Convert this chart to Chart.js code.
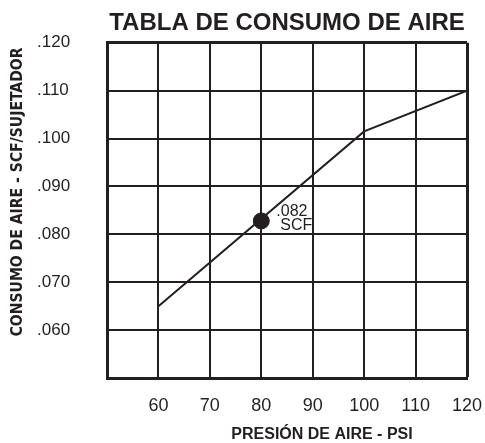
<!DOCTYPE html>
<html>
<head>
<meta charset="utf-8">
<script src="https://cdn.jsdelivr.net/npm/chart.js@4/dist/chart.umd.min.js"></script>
<style>
html,body{margin:0;padding:0;background:#fff;}
#wrap{width:485px;height:443px;position:relative;}
</style>
</head>
<body>
<div id="wrap"><canvas id="airChart"></canvas></div>
<script>
// data
const chartTitle = 'TABLA DE CONSUMO DE AIRE';
const xTitle = 'PRESIÓN DE AIRE - PSI';
const yTitle = 'CONSUMO DE AIRE - SCF/SUJETADOR';
const pressure = [60, 100, 120];
const consumption = [0.065, 0.1015, 0.110];
const markPressure = [80];
const markValue = [0.0828];
const markLines = ['.082', 'SCF'];
const xRange = [50, 120];
const yRange = [0.05, 0.12];

const ink = '#231f20';
const sans = '"Liberation Sans", Arial, Helvetica, sans-serif';
const narrow = '"Liberation Sans Narrow", "DejaVu Sans Condensed", sans-serif';

// note by the point + axis titles (placed like the original, off-centre)
const textPlugin = {
  id: 'extraText',
  afterDraw: function(chart){
    const c = chart.ctx, xs = chart.scales.x, ys = chart.scales.y;
    const px = xs.getPixelForValue(markPressure[0]);
    const py = ys.getPixelForValue(markValue[0]);
    c.save();
    c.fillStyle = ink;
    c.textBaseline = 'middle';
    c.textAlign = 'left';
    c.font = '16px ' + sans;
    c.fillText(markLines[0], px + 15, py - 9);
    c.fillText(markLines[1], px + 19, py + 5);
    c.textAlign = 'center';
    c.font = 'bold 16px ' + sans;
    c.fillText(xTitle, 322, 435);
    c.translate(18, 192);
    c.rotate(-Math.PI / 2);
    c.font = 'bold 16px ' + narrow;
    // squeeze to the length of the original lettering
    const w = c.measureText(yTitle).width;
    c.scale(289 / w, 1);
    c.fillText(yTitle, 0, 0);
    c.restore();
  }
};

new Chart('airChart', {
  type: 'scatter',
  data: {
    datasets: [{
      data: pressure.map(function(p, i){ return {x: p, y: consumption[i]}; }),
      showLine: true,
      borderColor: ink,
      borderWidth: 2,
      pointRadius: 0
    },
    {
      data: markPressure.map(function(p, i){ return {x: p, y: markValue[i]}; }),
      pointRadius: 8,
      backgroundColor: ink,
      borderColor: ink
    }]
  },
  options: {
    responsive: true,
    maintainAspectRatio: false,
    animation: false,
    events: [],
    layout: {padding: {left: 37, right: 18, top: 0, bottom: 0}},
    plugins: {
      legend: {display: false},
      tooltip: {enabled: false},
      title: {
        display: true,
        fullSize: false,
        text: chartTitle,
        align: 'center',
        color: ink,
        font: {family: sans, size: 24, weight: 'bold'},
        padding: {top: 9, bottom: 5}
      }
    },
    scales: {
      x: {
        type: 'linear',
        min: xRange[0],
        max: xRange[1],
        afterFit: function(s){ s.height = 65; },
        border: {color: ink, width: 3},
        grid: {
          color: ink,
          drawTicks: true,
          tickLength: 17,
          tickColor: 'rgba(0,0,0,0)',
          lineWidth: function(ctx){ return ctx.tick && ctx.tick.value === xRange[1] ? 3 : 2; }
        },
        ticks: {
          stepSize: 10,
          padding: 0,
          color: ink,
          font: {family: sans, size: 18},
          callback: function(v){ return v === xRange[0] ? '' : v; }
        }
      },
      y: {
        min: yRange[0],
        max: yRange[1],
        afterFit: function(s){ s.width = 70; },
        border: {color: ink, width: 3},
        grid: {
          color: ink,
          drawTicks: false,
          lineWidth: function(ctx){ return ctx.tick && Math.abs(ctx.tick.value - yRange[1]) < 1e-9 ? 3 : 2; }
        },
        ticks: {
          stepSize: 0.01,
          crossAlign: 'far',
          color: ink,
          font: {family: sans, size: 17},
          callback: function(v){ return Math.abs(v - yRange[0]) < 1e-9 ? '' : v.toFixed(3).slice(1); }
        }
      }
    }
  },
  plugins: [textPlugin]
});
</script>
</body>
</html>
